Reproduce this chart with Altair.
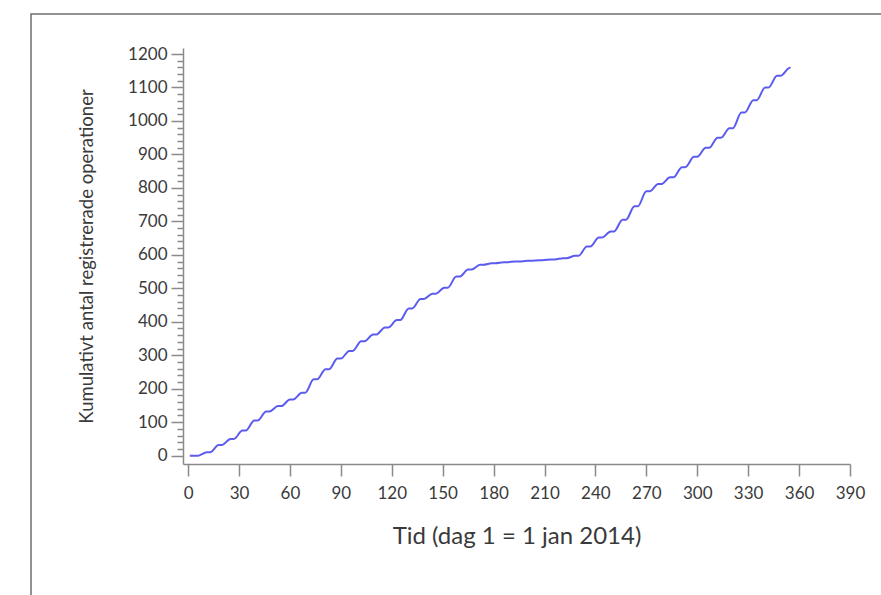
import altair as alt
import pandas as pd

# Cumulative registered operations; plateaus mark the weekends
days = [1, 4, 6, 11, 13, 18, 20, 25, 27, 32, 34, 39, 41, 46, 48, 53, 55, 60, 62,
        67, 69, 74, 76, 81, 83, 88, 90, 95, 97, 102, 104, 109, 111, 116, 118,
        123, 125, 130, 132, 137, 139, 144, 146, 151, 153, 158, 160, 165, 167,
        172, 174, 179, 181, 186, 188, 193, 195, 200, 202, 207, 209, 214, 216,
        221, 223, 228, 230, 235, 237, 242, 244, 249, 251, 256, 258, 263, 265,
        270, 272, 277, 279, 284, 286, 291, 293, 298, 300, 305, 307, 312, 314,
        319, 321, 326, 328, 333, 335, 340, 342, 347, 349, 354, 355]
cumulative = [0, 0, 0, 10, 10, 32, 32, 50, 50, 75, 75, 105, 105, 132, 132, 148, 148,
              168, 168, 188, 188, 228, 228, 258, 258, 290, 290, 313, 313, 342, 342,
              362, 362, 383, 383, 405, 405, 440, 440, 468, 468, 484, 484, 502, 502,
              535, 535, 556, 556, 570, 570, 575, 575, 578, 578, 580, 580, 582, 582,
              584, 584, 586, 586, 590, 590, 597, 597, 625, 625, 652, 652, 670, 670,
              705, 705, 745, 745, 790, 790, 812, 812, 832, 832, 862, 862, 893, 893,
              920, 920, 950, 950, 978, 978, 1025, 1025, 1062, 1062, 1100, 1100,
              1135, 1135, 1158, 1160]

x_ticks = list(range(0, 391, 30))
y_ticks = list(range(0, 1201, 20))  # labelled every 100, minor marks every 20

FONT = "Lato"
TEXT = "#3a3a3a"
AXIS = "#8a8a8a"

df = pd.DataFrame({"dag": days, "antal": cumulative})

line = alt.Chart(df).mark_line(
    color="#5b5bf0", strokeWidth=2, interpolate="monotone"
).encode(
    x=alt.X(
        "dag:Q",
        scale=alt.Scale(domain=[-3, 390], nice=False, zero=False),
        axis=alt.Axis(
            values=x_ticks,
            title="Tid (dag 1 = 1 jan 2014)",
            titleFont=FONT, titleFontSize=24, titleFontWeight="normal",
            titleColor=TEXT, titlePadding=23,
            labelFont=FONT, labelFontSize=17, labelColor=TEXT,
            labelPadding=9, labelFlush=False,
            tickSize=12, tickColor=AXIS, tickWidth=1.5,
            domainColor=AXIS, domainWidth=1.5, grid=False,
        ),
    ),
    y=alt.Y(
        "antal:Q",
        scale=alt.Scale(domain=[-25, 1218], nice=False, zero=False),
        axis=alt.Axis(
            values=y_ticks,
            format="d",
            labelExpr="datum.value % 100 === 0 ? datum.label : ''",
            labelOverlap=False, labelFlush=False,
            title="Kumulativt antal registrerade operationer",
            titleFont=FONT, titleFontSize=18.5, titleFontWeight="normal",
            titleColor=TEXT, titlePadding=31,
            labelFont=FONT, labelFontSize=17, labelColor=TEXT, labelPadding=4,
            tickSize={"condition": {"test": "datum.value % 100 === 0", "value": 12},
                      "value": 6},
            tickColor=AXIS, tickWidth=1.5,
            domainColor=AXIS, domainWidth=1.5, grid=False,
        ),
    ),
)

# Outer frame around the figure
frame = alt.Chart(alt.Data(values=[{}])).mark_rect(
    fill=None, stroke="#6e6e6e", strokeWidth=1.5, clip=False
).encode(
    x=alt.value(-152), x2=alt.value(720),
    y=alt.value(-34), y2=alt.value(570),
)

chart = alt.layer(frame, line).properties(
    width=667, height=416,
    autosize=alt.AutoSizeParams(type="none"),
    padding={"left": 183, "top": 48, "right": 31, "bottom": 131},
    background="white",
).configure_view(stroke=None)

chart.save("out.html", embed_options={"renderer": "svg", "actions": False})
